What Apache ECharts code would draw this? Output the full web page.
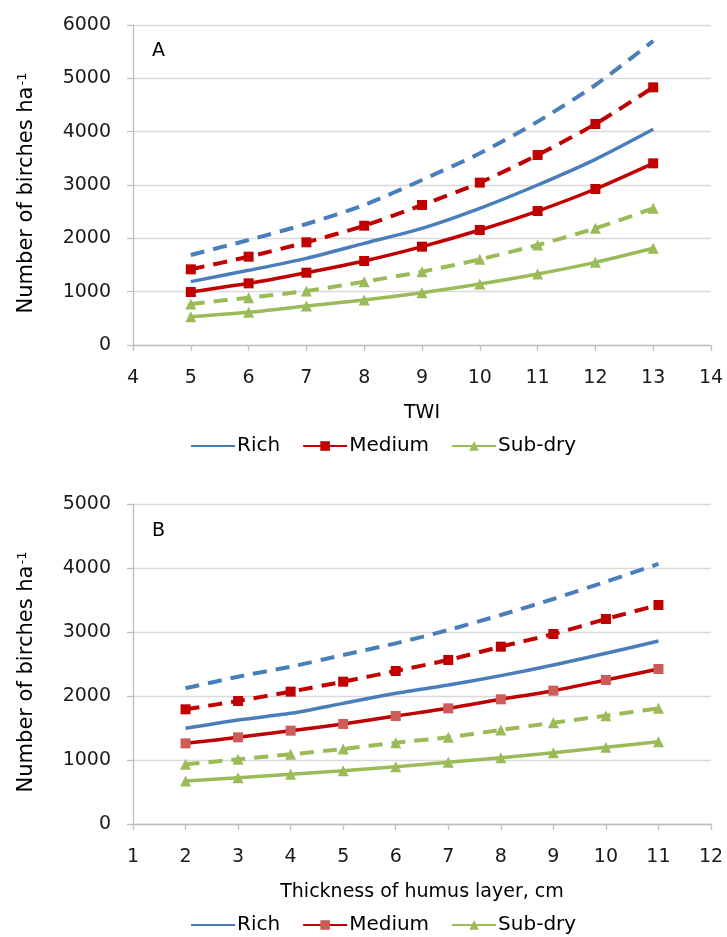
<!DOCTYPE html>
<html><head><meta charset="utf-8">
<script src="https://cdn.jsdelivr.net/npm/echarts@6/dist/echarts.min.js"></script>
<style>html,body{margin:0;padding:0;background:#fff}#c{width:727px;height:937px}</style>
</head><body><div id="c"></div>
<script>
// Panel A: TWI
const twi = [5, 6, 7, 8, 9, 10, 11, 12, 13];
const richA = [1188, 1400, 1625, 1906, 2188, 2563, 3000, 3481, 4044];
const richA_d = [1688, 1969, 2269, 2625, 3094, 3594, 4188, 4875, 5700];
const mediumA = [994, 1156, 1356, 1575, 1844, 2156, 2512, 2925, 3406];
const mediumA_d = [1419, 1656, 1925, 2237, 2625, 3044, 3562, 4144, 4831];
const subdryA = [531, 613, 731, 844, 981, 1144, 1331, 1550, 1813];
const subdryA_d = [769, 888, 1013, 1188, 1375, 1606, 1875, 2188, 2563];
// Panel B: humus thickness
const humus = [2, 3, 4, 5, 6, 7, 8, 9, 10, 11];
const richB = [1495, 1625, 1729, 1885, 2042, 2172, 2318, 2484, 2667, 2859];
const richB_d = [2120, 2302, 2458, 2641, 2823, 3031, 3266, 3516, 3786, 4063];
const mediumB = [1260, 1354, 1458, 1563, 1688, 1807, 1948, 2083, 2250, 2422];
const mediumB_d = [1792, 1922, 2068, 2224, 2391, 2563, 2771, 2969, 3203, 3422];
const subdryB = [672, 724, 776, 833, 896, 964, 1036, 1115, 1198, 1286];
const subdryB_d = [932, 1010, 1089, 1172, 1271, 1354, 1469, 1583, 1693, 1807];
const legendNames = ['Rich', 'Medium', 'Sub-dry'];
const yTitle = 'Number of birches ha';
const xTitleA = 'TWI';
const xTitleB = 'Thickness of humus layer, cm';

const FONT = 'DejaVu Sans';
const BLUE = '#4a7ebb', RED = '#c00000', RED2 = '#cd5b58', GREEN = '#9bbb59';
const pairs = (xs, ys) => xs.map((x, i) => [x, ys[i]]);

function xAx(idx, min, max, name) {
  return {
    type: 'value', gridIndex: idx, min: min, max: max, interval: 1,
    name: name, nameLocation: 'middle', nameGap: 59,
    nameTextStyle: {fontFamily: FONT, fontSize: 19, color: '#000'},
    axisLine: {show: true, lineStyle: {color: '#bfbfbf', width: 1.3}},
    axisTick: {show: true, length: 6, lineStyle: {color: '#bfbfbf', width: 1.3}},
    axisLabel: {margin: 24, fontFamily: FONT, fontSize: 19, color: '#1a1a1a'},
    splitLine: {show: false}
  };
}
function yAx(idx, max) {
  return {
    type: 'value', gridIndex: idx, min: 0, max: max, interval: 1000,
    name: '{m|' + yTitle + '}{s|-1}', nameLocation: 'middle', nameGap: 95,
    nameTextStyle: {fontFamily: FONT, fontSize: 21, color: '#000', padding: [0, 16, 0, 0],
      rich: {m: {fontFamily: FONT, fontSize: 21, color: '#000'},
             s: {fontFamily: FONT, fontSize: 13, color: '#000', verticalAlign: 'top', padding: [0, 0, 9, 1]}}},
    axisLine: {show: true, lineStyle: {color: '#bfbfbf', width: 1.3}},
    axisTick: {show: true, length: 6, lineStyle: {color: '#bfbfbf', width: 1.3}},
    axisLabel: {margin: 22, fontFamily: FONT, fontSize: 19, color: '#1a1a1a', formatter: v => String(v)},
    splitLine: {show: true, lineStyle: {color: '#d9d9d9', width: 1.3}}
  };
}
function ser(name, xs, ys, idx, color, dashed, symbol, mcolor) {
  return {
    name: name, type: 'line', xAxisIndex: idx, yAxisIndex: idx,
    data: pairs(xs, ys), smooth: 0.25,
    symbol: symbol || 'none', symbolSize: symbol === 'triangle' ? 11 : 10,
    showSymbol: !!symbol,
    lineStyle: {color: color, width: dashed ? 4 : 3.5, type: dashed ? [14, 9] : 'solid', cap: 'butt'},
    itemStyle: {color: mcolor || color, borderWidth: 0},
    emphasis: {disabled: true}, silent: true
  };
}
function legendData(suffix) {
  return legendNames.map(n => n === 'Rich'
    ? {name: n + suffix, itemStyle: {opacity: 0, color: 'rgba(0,0,0,0)'}}
    : {name: n + suffix});
}

const chart = echarts.init(document.getElementById('c'), null, {renderer: 'canvas'});
chart.setOption({
  animation: false,
  backgroundColor: '#fff',
  grid: [
    {left: 133, width: 578, top: 25, height: 320},
    {left: 133, width: 578, top: 504, height: 320}
  ],
  xAxis: [xAx(0, 4, 14, xTitleA), xAx(1, 1, 12, xTitleB)],
  yAxis: [yAx(0, 6000), yAx(1, 5000)],
  legend: [
    {data: legendData(''), left: 185, top: 431, itemWidth: 44, itemHeight: 12, itemGap: 22,
     textStyle: {fontFamily: FONT, fontSize: 20, color: '#000', padding: [0, 0, 0, -3]}},
    {data: legendData(' B'), left: 185, top: 910, itemWidth: 44, itemHeight: 12, itemGap: 22,
     formatter: n => n.replace(/ B$/, ''),
     textStyle: {fontFamily: FONT, fontSize: 20, color: '#000', padding: [0, 0, 0, -3]}}
  ],
  graphic: [
    {type: 'text', left: 152, top: 42, style: {text: 'A', fontFamily: FONT, fontSize: 19, fill: '#000'}},
    {type: 'text', left: 152, top: 522, style: {text: 'B', fontFamily: FONT, fontSize: 19, fill: '#000'}}
  ],
  series: [
    ser('Rich', twi, richA, 0, BLUE, false),
    ser('Rich dashed', twi, richA_d, 0, BLUE, true),
    ser('Medium', twi, mediumA, 0, RED, false, 'rect'),
    ser('Medium dashed', twi, mediumA_d, 0, RED, true, 'rect'),
    ser('Sub-dry', twi, subdryA, 0, GREEN, false, 'triangle'),
    ser('Sub-dry dashed', twi, subdryA_d, 0, GREEN, true, 'triangle'),
    ser('Rich B', humus, richB, 1, BLUE, false),
    ser('Rich B dashed', humus, richB_d, 1, BLUE, true),
    ser('Medium B', humus, mediumB, 1, RED, false, 'rect', RED2),
    ser('Medium B dashed', humus, mediumB_d, 1, RED, true, 'rect'),
    ser('Sub-dry B', humus, subdryB, 1, GREEN, false, 'triangle'),
    ser('Sub-dry B dashed', humus, subdryB_d, 1, GREEN, true, 'triangle')
  ]
});
</script></body></html>
